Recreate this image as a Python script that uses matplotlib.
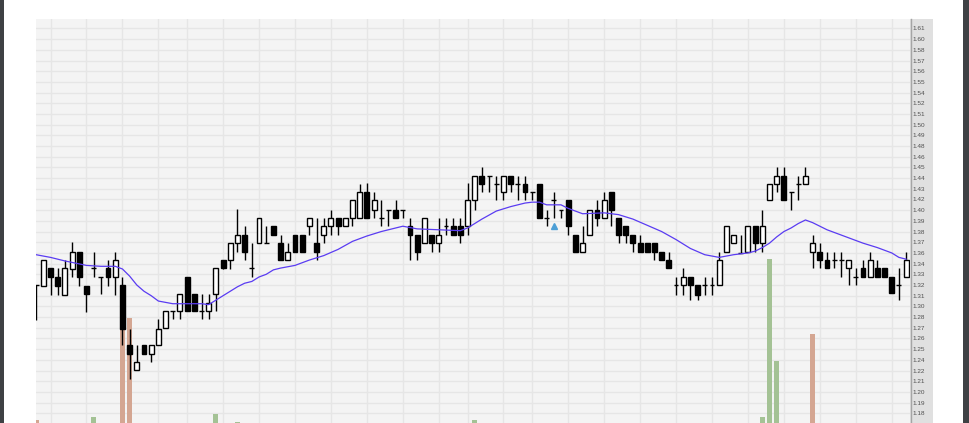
import matplotlib.pyplot as plt
from matplotlib.patches import Rectangle
from matplotlib.lines import Line2D
import numpy as np

plt.rcParams['font.family'] = ['Liberation Sans', 'DejaVu Sans']

# Daily OHLC (122 sessions)
opens = [1.324, 1.323, 1.343, 1.333, 1.313, 1.342, 1.361, 1.323, 1.343, 1.333,
         1.343, 1.333, 1.324, 1.257, 1.229, 1.257, 1.247, 1.257, 1.276, 1.295,
         1.295, 1.333, 1.314, 1.295, 1.295, 1.314, 1.352, 1.352, 1.371, 1.380,
         1.343, 1.371, 1.371, 1.390, 1.371, 1.352, 1.380, 1.380, 1.390, 1.371,
         1.380, 1.390, 1.399, 1.390, 1.399, 1.399, 1.428, 1.408, 1.399, 1.408,
         1.408, 1.408, 1.390, 1.380, 1.371, 1.380, 1.371, 1.390, 1.390, 1.390,
         1.390, 1.419, 1.446, 1.446, 1.437, 1.428, 1.446, 1.437, 1.437, 1.428,
         1.437, 1.399, 1.419, 1.408, 1.419, 1.380, 1.361, 1.380, 1.408, 1.399,
         1.428, 1.399, 1.390, 1.380, 1.371, 1.371, 1.371, 1.361, 1.352, 1.324,
         1.324, 1.333, 1.324, 1.324, 1.324, 1.324, 1.361, 1.371, 1.360, 1.361,
         1.390, 1.371, 1.419, 1.437, 1.446, 1.428, 1.437, 1.437, 1.361, 1.361,
         1.352, 1.352, 1.352, 1.343, 1.333, 1.343, 1.333, 1.343, 1.343, 1.333,
         1.324, 1.333]
highs = [1.324, 1.352, 1.343, 1.343, 1.352, 1.372, 1.361, 1.323, 1.361, 1.333,
         1.352, 1.361, 1.333, 1.275, 1.257, 1.257, 1.257, 1.286, 1.295, 1.295,
         1.314, 1.333, 1.314, 1.314, 1.314, 1.343, 1.352, 1.371, 1.409, 1.390,
         1.371, 1.399, 1.390, 1.390, 1.380, 1.371, 1.380, 1.380, 1.399, 1.399,
         1.399, 1.408, 1.399, 1.399, 1.419, 1.437, 1.438, 1.428, 1.419, 1.408,
         1.419, 1.408, 1.399, 1.380, 1.399, 1.380, 1.399, 1.399, 1.399, 1.399,
         1.438, 1.446, 1.456, 1.446, 1.446, 1.446, 1.446, 1.446, 1.446, 1.428,
         1.437, 1.408, 1.428, 1.408, 1.419, 1.380, 1.390, 1.408, 1.419, 1.428,
         1.428, 1.399, 1.390, 1.380, 1.380, 1.371, 1.371, 1.361, 1.361, 1.333,
         1.343, 1.333, 1.324, 1.333, 1.333, 1.361, 1.390, 1.380, 1.380, 1.390,
         1.390, 1.408, 1.437, 1.456, 1.456, 1.428, 1.446, 1.456, 1.380, 1.371,
         1.361, 1.361, 1.361, 1.352, 1.343, 1.352, 1.361, 1.352, 1.343, 1.333,
         1.343, 1.361]
lows = [1.285, 1.323, 1.313, 1.313, 1.313, 1.333, 1.323, 1.294, 1.333, 1.314,
        1.323, 1.313, 1.257, 1.219, 1.229, 1.247, 1.238, 1.257, 1.276, 1.286,
        1.286, 1.295, 1.295, 1.286, 1.286, 1.295, 1.342, 1.342, 1.361, 1.352,
        1.333, 1.371, 1.371, 1.380, 1.352, 1.352, 1.361, 1.361, 1.380, 1.352,
        1.371, 1.380, 1.380, 1.390, 1.390, 1.399, 1.399, 1.399, 1.390, 1.390,
        1.399, 1.399, 1.352, 1.352, 1.371, 1.361, 1.361, 1.380, 1.380, 1.371,
        1.380, 1.408, 1.428, 1.428, 1.419, 1.419, 1.428, 1.419, 1.419, 1.419,
        1.399, 1.390, 1.399, 1.399, 1.380, 1.361, 1.361, 1.380, 1.390, 1.399,
        1.390, 1.371, 1.371, 1.361, 1.361, 1.361, 1.352, 1.352, 1.343, 1.313,
        1.313, 1.307, 1.307, 1.313, 1.313, 1.324, 1.361, 1.371, 1.360, 1.361,
        1.361, 1.361, 1.419, 1.428, 1.419, 1.408, 1.419, 1.437, 1.343, 1.343,
        1.343, 1.343, 1.333, 1.324, 1.324, 1.333, 1.333, 1.333, 1.333, 1.315,
        1.307, 1.333]
closes = [1.324, 1.352, 1.333, 1.323, 1.343, 1.361, 1.333, 1.314, 1.343, 1.333,
          1.333, 1.352, 1.275, 1.247, 1.238, 1.247, 1.257, 1.275, 1.295, 1.295,
          1.314, 1.295, 1.295, 1.295, 1.304, 1.343, 1.343, 1.371, 1.380, 1.361,
          1.343, 1.399, 1.371, 1.380, 1.352, 1.361, 1.361, 1.361, 1.399, 1.361,
          1.390, 1.399, 1.390, 1.399, 1.419, 1.428, 1.399, 1.419, 1.399, 1.408,
          1.399, 1.408, 1.380, 1.361, 1.399, 1.371, 1.380, 1.390, 1.380, 1.380,
          1.419, 1.446, 1.437, 1.446, 1.437, 1.446, 1.437, 1.437, 1.428, 1.428,
          1.399, 1.399, 1.419, 1.408, 1.390, 1.361, 1.371, 1.408, 1.399, 1.419,
          1.408, 1.380, 1.380, 1.371, 1.361, 1.361, 1.361, 1.352, 1.343, 1.324,
          1.333, 1.324, 1.313, 1.324, 1.324, 1.352, 1.390, 1.380, 1.360, 1.390,
          1.371, 1.390, 1.437, 1.446, 1.419, 1.428, 1.437, 1.446, 1.371, 1.352,
          1.343, 1.352, 1.352, 1.352, 1.333, 1.333, 1.352, 1.333, 1.333, 1.315,
          1.324, 1.352]

# moving average (sampled at session index)
ma_idx = [0, 2, 4, 7, 9, 11, 12, 13, 14, 15, 16, 17, 19, 21, 23, 24, 25, 26, 27, 28,
          29, 30, 31, 32, 33, 34, 36, 38, 40, 42, 44, 46, 48, 50, 51, 53, 56, 59, 60, 61,
          62, 64, 66, 68, 69, 70, 71, 73, 74, 75, 76, 79, 81, 83, 85, 87, 89, 91, 93, 95,
          97, 99, 100, 101, 102, 103, 104, 105, 106, 107, 108, 109, 110, 112, 113, 115,
          117, 119, 120, 121]
ma_val = [1.358, 1.355, 1.351, 1.346, 1.345, 1.345, 1.342, 1.334, 1.324, 1.317,
          1.312, 1.306, 1.303, 1.303, 1.303, 1.302, 1.307, 1.312, 1.317, 1.322,
          1.326, 1.328, 1.333, 1.336, 1.341, 1.343, 1.346, 1.352, 1.357, 1.364,
          1.373, 1.379, 1.384, 1.388, 1.390, 1.387, 1.386, 1.385, 1.388, 1.393,
          1.398, 1.407, 1.412, 1.416, 1.417, 1.417, 1.414, 1.414, 1.410, 1.407,
          1.404, 1.405, 1.403, 1.398, 1.391, 1.384, 1.375, 1.365, 1.358, 1.355,
          1.358, 1.360, 1.362, 1.366, 1.371, 1.378, 1.384, 1.388, 1.393, 1.397,
          1.394, 1.390, 1.386, 1.380, 1.377, 1.371, 1.366, 1.360, 1.355, 1.353]

# volume (only the bars that reach into the visible window), scale 0..1000
vol_idx = [0, 8, 12, 13, 25, 28, 61, 101, 102, 103, 108]
vol = [7, 16, 292, 259, 22, 3, 7, 16, 405, 153, 221]
vol_scale = 1000

# signal marker
signal_idx = [72]
signal_price = [1.390]

# week starts (vertical grid)
week_idx = [2, 7, 12, 17, 21, 26, 31, 36, 41, 46, 51, 56, 60, 65, 69, 74, 79,
            84, 89, 94, 99, 104, 109, 114, 119]

# right axis labels (bottom to top)
ytick_labels = ['1.18', '1.19', '1.20', '1.21', '1.22', '1.24', '1.25', '1.26', '1.27',
                '1.28', '1.30', '1.31', '1.32', '1.33', '1.34', '1.36', '1.37', '1.38',
                '1.39', '1.40', '1.42', '1.43', '1.44', '1.45', '1.46', '1.48', '1.49',
                '1.50', '1.51', '1.52', '1.54', '1.55', '1.56', '1.57', '1.58', '1.60',
                '1.61']
ytick_start, ytick_step = 1.18, 0.012

o = np.array(opens); h = np.array(highs); l = np.array(lows); c = np.array(closes)
x = np.arange(len(o))

W, H = 969, 423
fig = plt.figure(figsize=(W / 100, H / 100), dpi=100)
ax = fig.add_axes([36 / W, 0, 874 / W, 404 / H])
ax.set_facecolor('#f4f4f4')
ax.set_axisbelow(True)

# volume bars: x in sessions, height as a fraction of the panel
prev_close = np.concatenate([[np.inf], c[:-1]])
vol_up = c[vol_idx] > prev_close[vol_idx]
vol_colors = ['#a4c295' if up else '#d4a692' for up in vol_up]
ax.bar(vol_idx, np.array(vol) / vol_scale, width=0.72, color=vol_colors,
       edgecolor='none', transform=ax.get_xaxis_transform(), zorder=1)

# candles
ax.vlines(x, l, h, color='black', linewidth=1.0, zorder=3)
up = c > o
down = c < o
flat = c == o
bw = 0.68
ax.bar(x[up], (c - o)[up], bottom=o[up], width=bw, facecolor='white',
       edgecolor='black', linewidth=1.0, zorder=4)
ax.bar(x[down], (o - c)[down], bottom=c[down], width=bw, facecolor='black',
       edgecolor='black', linewidth=1.0, zorder=4)
ax.hlines(o[flat], x[flat] - bw / 2, x[flat] + bw / 2, color='black', linewidth=1.0, zorder=4)

ax.plot(ma_idx, ma_val, color='#5a3cf2', linewidth=0.9, zorder=5)
ax.plot(signal_idx, signal_price, linestyle='none', marker='^', markersize=4.5,
        color='#4d9fd6', zorder=5)

ax.set_xlim(-0.02, 121.54)
ax.set_ylim(1.1691, 1.6226)

ax.set_yticks(ytick_start + ytick_step * np.arange(len(ytick_labels)))
ax.set_yticklabels(ytick_labels)
ax.yaxis.tick_right()
ax.tick_params(axis='y', length=0, pad=2, labelsize=4.6, labelcolor='#505050')
ax.set_xticks(week_idx)
ax.tick_params(axis='x', length=0, labelbottom=False)
ax.grid(True, color='#e6e6e6', linewidth=1.0)
for s in ax.spines.values():
    s.set_visible(False)

# right price panel and dark window edges
fig.add_artist(Rectangle((910 / W, 0), 23 / W, 404 / H, transform=fig.transFigure,
                         facecolor='#e0e0e0', edgecolor='none', zorder=-1))
fig.add_artist(Line2D([910.5 / W, 910.5 / W], [0, 404 / H], transform=fig.transFigure,
                      color='#a5a5a5', linewidth=1.0))
fig.add_artist(Rectangle((0, 0), 4 / W, 1, transform=fig.transFigure,
                         facecolor='#3e4144', edgecolor='none'))
fig.add_artist(Rectangle((963 / W, 0), 6 / W, 1, transform=fig.transFigure,
                         facecolor='#3e4144', edgecolor='none'))

fig.savefig('out.png', dpi=100)
